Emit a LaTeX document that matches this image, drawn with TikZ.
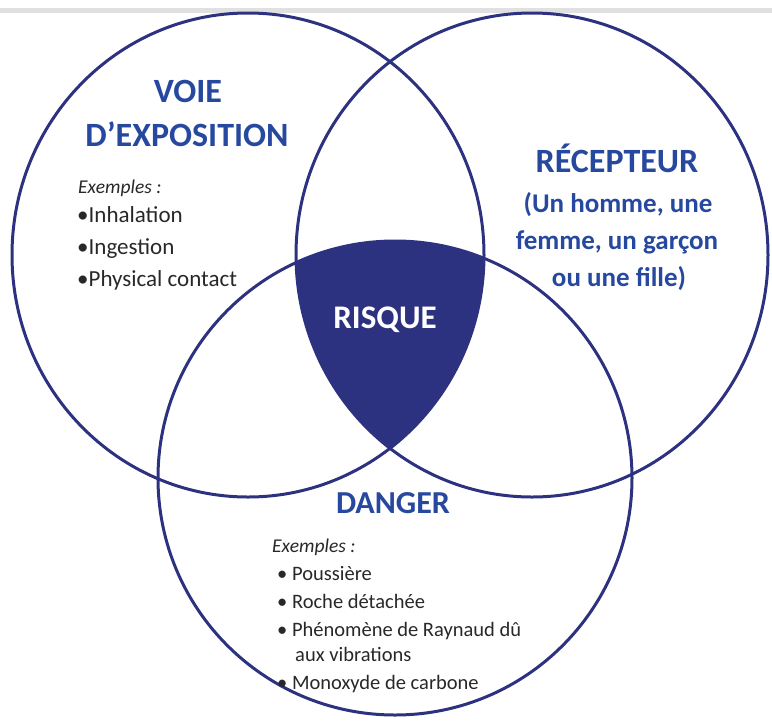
\documentclass[tikz,border=0pt]{standalone}
\usepackage{fontspec}
\setmainfont{Carlito}
\definecolor{navy}{RGB}{45,50,128}
\definecolor{titleblue}{RGB}{38,72,158}
\definecolor{txt}{RGB}{40,40,40}
\tikzset{
  circ/.style={draw=navy, line width=3pt},
  ttl/.style={text=titleblue, font=\bfseries\fontsize{34}{36}\selectfont, anchor=base, inner sep=0pt},
  sub/.style={text=titleblue, font=\bfseries\fontsize{27}{30}\selectfont, anchor=base, inner sep=0pt},
  lst/.style={text=txt, font=\fontsize{23}{25}\selectfont, anchor=base west, inner sep=0pt},
  lstb/.style={text=txt, font=\fontsize{20.5}{22}\selectfont, anchor=base west, inner sep=0pt},
  exm/.style={text=txt, font=\itshape\fontsize{19.5}{21}\selectfont, anchor=base west, inner sep=0pt}
}
\begin{document}
\begin{tikzpicture}[x=1pt,y=-1pt]
\useasboundingbox (0,0) rectangle (772,721);
\fill[black!12] (0,8) rectangle (772,13);
% risk region
\begin{scope}
  \clip (248,255) ellipse [x radius=236, y radius=242];
  \clip (532,255) ellipse [x radius=236, y radius=242];
  \fill[navy] (395,478) circle [radius=237];
\end{scope}
\draw[circ] (248,255) ellipse [x radius=236, y radius=242];
\draw[circ] (532,255) ellipse [x radius=236, y radius=242];
\draw[circ] (395,478) circle [radius=237];
% titles
\node[ttl] (voie) at (188,102) {VOIE};
\node[ttl] (expo) at (187,146) {D’EXPOSITION};
\node[ttl] (rec) at (617,172) {RÉCEPTEUR};
\node[sub] (r1) at (618,212) {(Un homme, une};
\node[sub] (r2) at (617,249) {femme, un garçon};
\node[sub] (r3) at (619,286) {ou une fille)};
\node[ttl, text=white, font=\bfseries\fontsize{33}{35}\selectfont] (risque) at (385,328) {RISQUE};
\node[ttl, font=\bfseries\fontsize{32}{34}\selectfont] (danger) at (393,513) {DANGER};
% left list
\node[exm] (ex1) at (78,193) {Exemples :};
\node[lst] (l1) at (77,222) {•Inhalation};
\node[lst] (l2) at (77,254) {•Ingestion};
\node[lst] (l3) at (77,286) {•Physical contact};
% bottom list
\node[exm] (ex2) at (272,552) {Exemples :};
\node[lstb] (b1) at (277,580) {• Poussière};
\node[lstb] (b2) at (277,608) {• Roche détachée};
\node[lstb] (b3) at (277,636) {• Phénomène de Raynaud dû};
\node[lstb] (b4) at (295,661) {aux vibrations};
\node[lstb] (b5) at (277,689) {• Monoxyde de carbone};
\end{tikzpicture}
\end{document}
